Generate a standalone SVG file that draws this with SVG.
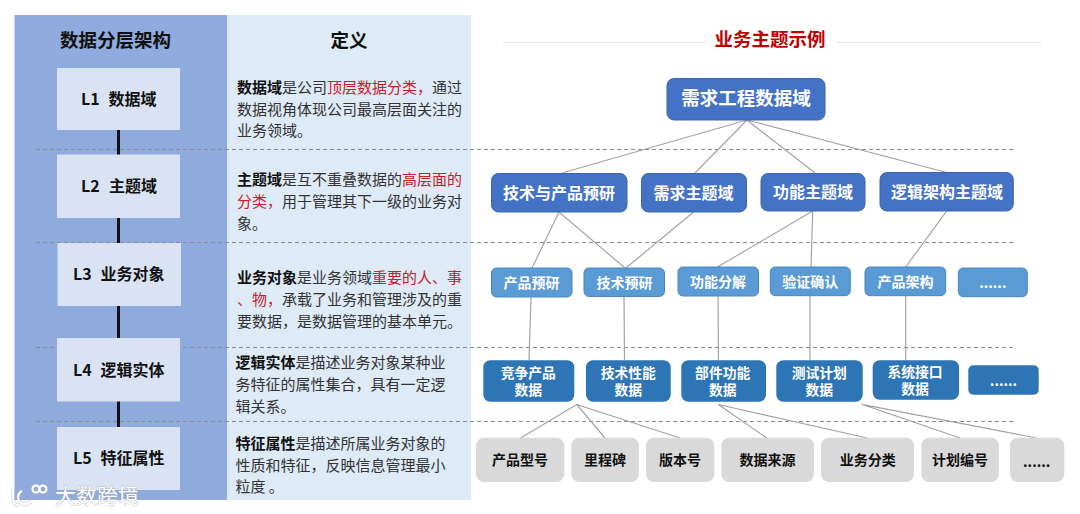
<svg xmlns="http://www.w3.org/2000/svg" width="1080" height="514" viewBox="0 0 1080 514">
<style>
text{font-family:"Noto Sans CJK SC","Noto Sans",sans-serif}
.c{text-anchor:middle}
.h{font-size:18.5px;font-weight:700;fill:#111}
.lv{fill:#dae3f3}
.lt{font-size:16px;font-weight:700;fill:#111}
.d{font-size:15px;fill:#333}
.d .b{font-weight:700;fill:#111}
.d .r{fill:#c8202a}
.dash{stroke:#8a8a8a;stroke-width:1;stroke-dasharray:4 3;fill:none}
.link{stroke:#a3a3a3;stroke-width:1.2;fill:none}
.stem{stroke:#111;stroke-width:3;fill:none}
.n2{fill:#4472c4;stroke:#3b66ad;stroke-width:1}
.n3{fill:#5b9bd5;stroke:#4a86bd;stroke-width:1}
.n4{fill:#2e75b6}
.n5{fill:#d9d9d9}
.wt{fill:#fff;font-weight:700}
.w14{font-size:14px;fill:#fff;font-weight:700}
.w13{font-size:13.8px;fill:#fff;font-weight:700}
.k14{font-size:14px;fill:#111;font-weight:700}
</style>
<rect width="1080" height="514" fill="#fff"/>
<rect id="panel-layers" x="14.5" y="15" width="212.5" height="485" fill="#8faadc"/>
<rect id="panel-definitions" x="227" y="15" width="244" height="485" fill="#deeaf6"/>
<g id="separators">
<path class="dash" d="M36 149.500H1016M36 242.500H1016M36 347.500H1016M36 421.500H1016"/>
</g>
<g id="title">
<path d="M503 42.500H707M837 42.500H1042" stroke="#e2e6ee" stroke-width="1.200" fill="none"/>
<text class="c" x="770" y="45.500" font-size="18.500" font-weight="700" fill="#c00000">业务主题示例</text>
</g>
<text class="c h" x="115.500" y="46.500">数据分层架构</text>
<text class="c h" x="349" y="46.500">定义</text>
<g id="connectors">
<path class="stem" d="M118.500 130V155M118.500 218V243M118.500 306V338M118.500 401V427"/>
<path class="link" d="M747 120L562 173M747 120L695 173M747 120L815 173M747 120L946.700 172.500"/>
<path class="link" d="M559 212L532 268M559 212L625 268M693.500 212L626 268M812.700 211L717.500 267M812.700 211L811 267M946.700 211L905.700 267"/>
<path class="link" d="M531 297L529 360M624 296L624.500 360M718 296L718.500 360M810 296V360M905.700 296V360"/>
<path class="link" d="M576.700 404.500L520.700 438M576.700 404.500L605 438M576.700 404.500L680 438M718.300 404.500L766.700 438M718.300 404.500L867.300 438M861.700 404.300L960 438M861.700 404.300L1036.700 438"/>
</g>
<g id="L1"><rect class="lv" x="57" y="68" width="123" height="62"/><text class="lt" x="81" y="104.500">L1</text><text class="lt" x="108.500" y="104.500">数据域</text></g>
<g id="L2"><rect class="lv" x="57" y="154.500" width="123" height="63.500"/><text class="lt" x="81" y="191.500">L2</text><text class="lt" x="109" y="191.500">主题域</text></g>
<g id="L3"><rect class="lv" x="57.500" y="243" width="123.500" height="63"/><text class="lt" x="73" y="280">L3</text><text class="lt" x="100.500" y="280">业务对象</text></g>
<g id="L4"><rect class="lv" x="57" y="338" width="123" height="63.500"/><text class="lt" x="73" y="376">L4</text><text class="lt" x="100.500" y="376">逻辑实体</text></g>
<g id="L5"><rect class="lv" x="57" y="427" width="123" height="63"/><text class="lt" x="73" y="464">L5</text><text class="lt" x="100.500" y="464">特征属性</text></g>
<g id="def-L1"><text class="d" x="237" y="93"><tspan class="b">数据域</tspan>是公司<tspan class="r">顶层数据分类，</tspan>通过</text><text class="d" x="237" y="115">数据视角体现公司最高层面关注的</text><text class="d" x="237" y="136">业务领域。</text></g>
<g id="def-L2"><text class="d" x="237" y="185"><tspan class="b">主题域</tspan>是互不重叠数据的<tspan class="r">高层面的</tspan></text><text class="d" x="237" y="207"><tspan class="r">分类，</tspan>用于管理其下一级的业务对</text><text class="d" x="237" y="229">象。</text></g>
<g id="def-L3"><text class="d" x="237" y="283"><tspan class="b">业务对象</tspan>是业务领域<tspan class="r">重要的人、事</tspan></text><text class="d" x="237" y="305"><tspan class="r">、物，</tspan>承载了业务和管理涉及的重</text><text class="d" x="237" y="327">要数据，是数据管理的基本单元。</text></g>
<g id="def-L4"><text class="d" x="235.500" y="367.500"><tspan class="b">逻辑实体</tspan>是描述业务对象某种业</text><text class="d" x="235.500" y="390">务特征的属性集合，具有一定逻</text><text class="d" x="235.500" y="411.500">辑关系。</text></g>
<g id="def-L5"><text class="d" x="235.500" y="449"><tspan class="b">特征属性</tspan>是描述所属业务对象的</text><text class="d" x="235.500" y="471">性质和特征，反映信息管理最小</text><text class="d" x="235.500" y="492">粒度 。</text></g>
<g id="n-root"><rect class="n2" x="667" y="78.500" width="158" height="41.500" rx="7"/><text class="c wt" x="746" y="105" font-size="18.500">需求工程数据域</text></g>
<g id="n-a1"><rect class="n2" x="491.500" y="173.500" width="135.500" height="38.500" rx="7"/><text class="c wt" x="559" y="198.500" font-size="16">技术与产品预研</text></g>
<g id="n-a2"><rect class="n2" x="641.500" y="173.500" width="105" height="38.500" rx="7"/><text class="c wt" x="693.500" y="198.500" font-size="16">需求主题域</text></g>
<g id="n-a3"><rect class="n2" x="761" y="173.500" width="104" height="37.500" rx="7"/><text class="c wt" x="813" y="198" font-size="16">功能主题域</text></g>
<g id="n-a4"><rect class="n2" x="880" y="172.500" width="133.300" height="38.500" rx="7"/><text class="c wt" x="947" y="198" font-size="16">逻辑架构主题域</text></g>
<g id="n-b1"><rect class="n3" x="491.500" y="268" width="80.500" height="29" rx="5"/><text class="c w14" x="531.500" y="287.500">产品预研</text></g>
<g id="n-b2"><rect class="n3" x="584" y="268" width="80.500" height="28.500" rx="5"/><text class="c w14" x="624.500" y="287.500">技术预研</text></g>
<g id="n-b3"><rect class="n3" x="678" y="267" width="80.500" height="29" rx="5"/><text class="c w14" x="718" y="286.500">功能分解</text></g>
<g id="n-b4"><rect class="n3" x="770.300" y="267" width="80" height="28.700" rx="5"/><text class="c w14" x="810.300" y="286.500">验证确认</text></g>
<g id="n-b5"><rect class="n3" x="865" y="267" width="80.700" height="28.700" rx="5"/><text class="c w14" x="905.500" y="286.500">产品架构</text></g>
<g id="n-b6"><rect class="n3" x="958.300" y="268" width="69" height="28.700" rx="5"/><text class="c w14" x="992.800" y="288">......</text></g>
<g id="n-c1"><rect class="n4" x="483.300" y="360.300" width="91" height="41.400" rx="7"/><text class="c w13" x="528.300" y="377.500">竞争产品<tspan x="528.300" dy="17">数据</tspan></text></g>
<g id="n-c2"><rect class="n4" x="586" y="360.300" width="84.700" height="41.400" rx="7"/><text class="c w13" x="628.300" y="377.500">技术性能<tspan x="628.300" dy="17">数据</tspan></text></g>
<g id="n-c3"><rect class="n4" x="681.300" y="360.300" width="84.700" height="41.400" rx="7"/><text class="c w13" x="722.700" y="377.500">部件功能<tspan x="722.700" dy="17">数据</tspan></text></g>
<g id="n-c4"><rect class="n4" x="776.300" y="360.300" width="86.400" height="41.400" rx="7"/><text class="c w13" x="819.300" y="377.500">测试计划<tspan x="819.300" dy="17">数据</tspan></text></g>
<g id="n-c5"><rect class="n4" x="872.700" y="360.300" width="86.300" height="39.400" rx="7"/><text class="c w13" x="915" y="376.500">系统接口<tspan x="915" dy="17">数据</tspan></text></g>
<g id="n-c6"><rect class="n4" x="968.300" y="365.300" width="70.400" height="29.400" rx="5"/><text class="c w14" x="1003.500" y="386">......</text></g>
<g id="n-d1"><rect class="n5" x="476" y="437.700" width="88.300" height="44.300" rx="8"/><text class="c k14" x="520" y="465">产品型号</text></g>
<g id="n-d2"><rect class="n5" x="571.300" y="437.700" width="67.700" height="44.300" rx="8"/><text class="c k14" x="605" y="465">里程碑</text></g>
<g id="n-d3"><rect class="n5" x="646" y="437.700" width="68.300" height="44.300" rx="8"/><text class="c k14" x="680" y="465">版本号</text></g>
<g id="n-d4"><rect class="n5" x="721.300" y="437.700" width="92.700" height="44.300" rx="8"/><text class="c k14" x="767.500" y="465">数据来源</text></g>
<g id="n-d5"><rect class="n5" x="821" y="437.700" width="93" height="44.300" rx="8"/><text class="c k14" x="867.700" y="465">业务分类</text></g>
<g id="n-d6"><rect class="n5" x="921.300" y="437.700" width="77.700" height="44.300" rx="8"/><text class="c k14" x="960" y="465">计划编号</text></g>
<g id="n-d7"><rect class="n5" x="1010" y="437.700" width="54.300" height="44.300" rx="8"/><text class="c k14" x="1036.700" y="467">......</text></g>
<g id="watermark">
<g fill="none" stroke="#b4b8be" stroke-opacity="0.55" stroke-width="3.500"><path d="M13 487V498Q13 505 19 505"/><path d="M31 501A7 7 0 1 1 22 491"/><circle cx="36" cy="489" r="3.500"/><circle cx="43" cy="489" r="3.500"/></g>
<g fill="none" stroke="#fff" stroke-width="2"><path d="M13 487V498Q13 505 19 505"/><path d="M31 501A7 7 0 1 1 22 491"/><circle cx="36" cy="489" r="3.500"/><circle cx="43" cy="489" r="3.500"/></g>
<text x="55" y="502.500" font-size="21" fill="#fff" stroke="#a9aeb6" stroke-width="0.700" paint-order="stroke">大数跨境</text>
</g>
</svg>
